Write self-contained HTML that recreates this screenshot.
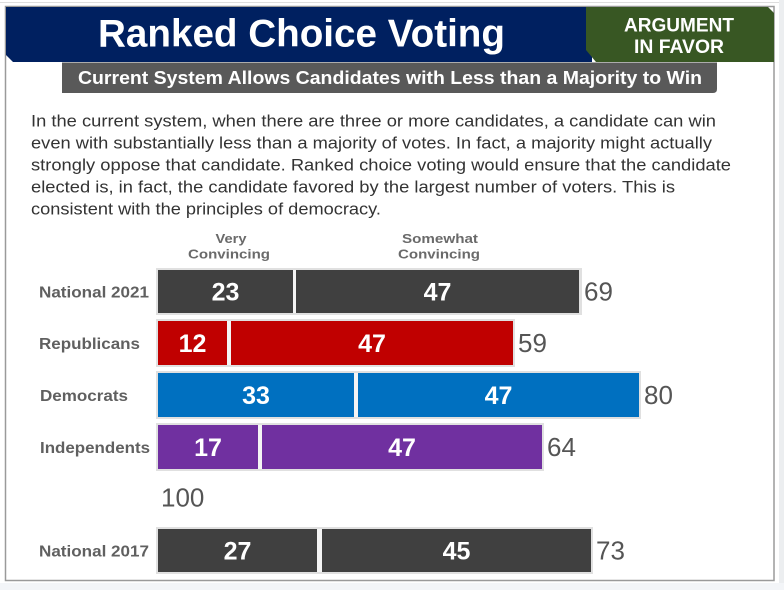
<!DOCTYPE html>
<html>
<head>
<meta charset="utf-8">
<style>
  html,body{margin:0;padding:0;background:#ffffff;}
  svg{display:block;}
  text{font-family:"Liberation Sans", Arial, sans-serif;}
</style>
</head>
<body>
<svg width="784" height="590" viewBox="0 0 784 590" xmlns="http://www.w3.org/2000/svg">
  <rect x="0" y="0" width="784" height="590" fill="#ffffff"/>
  <rect x="0" y="2" width="784" height="1" fill="#dedede"/>
  <rect x="779" y="0" width="5" height="590" fill="#eceef0"/>
  <rect x="0" y="583" width="784" height="7" fill="#f3f5f8"/>

  <rect x="5.5" y="6.5" width="768.5" height="574" fill="#ffffff" stroke="#9a9a9a" stroke-width="1.5"/>

  <polygon points="6,7 592,7 592,62 13,62 6,55" fill="#002060"/>
  <polygon points="586,7 768,7 774,13 774,62 596,62 586,50" fill="#385723"/>
  <text x="679" y="31.5" font-size="19" font-weight="bold" fill="#ffffff" text-anchor="middle" textLength="110" lengthAdjust="spacingAndGlyphs">ARGUMENT</text>
  <text x="679" y="53" font-size="19" font-weight="bold" fill="#ffffff" text-anchor="middle" textLength="90" lengthAdjust="spacingAndGlyphs">IN FAVOR</text>

  <text x="98" y="46.5" font-size="39" font-weight="bold" fill="#ffffff" textLength="407" lengthAdjust="spacingAndGlyphs">Ranked Choice Voting</text>

  <path d="M62,62.5 H717 V89 Q717,93 713,93 H62 Z" fill="#595959"/>
  <text x="78" y="84" font-size="18" font-weight="bold" fill="#ffffff" textLength="624" lengthAdjust="spacingAndGlyphs">Current System Allows Candidates with Less than a Majority to Win</text>

  <g font-size="16.5" fill="#333333">
    <text x="31" y="126.5" textLength="685" lengthAdjust="spacingAndGlyphs">In the current system, when there are three or more candidates, a candidate can win</text>
    <text x="31" y="148.5" textLength="681" lengthAdjust="spacingAndGlyphs">even with substantially less than a majority of votes. In fact, a majority might actually</text>
    <text x="31" y="170.5" textLength="700" lengthAdjust="spacingAndGlyphs">strongly oppose that candidate. Ranked choice voting would ensure that the candidate</text>
    <text x="31" y="192.5" textLength="644" lengthAdjust="spacingAndGlyphs">elected is, in fact, the candidate favored by the largest number of voters. This is</text>
    <text x="31" y="214.5" textLength="350" lengthAdjust="spacingAndGlyphs">consistent with the principles of democracy.</text>
  </g>

  <g font-size="13" font-weight="bold" fill="#6a6a6a" text-anchor="middle">
    <text x="231" y="243" textLength="31" lengthAdjust="spacingAndGlyphs">Very</text>
    <text x="229" y="258.5" textLength="82" lengthAdjust="spacingAndGlyphs">Convincing</text>
    <text x="440" y="243" textLength="76" lengthAdjust="spacingAndGlyphs">Somewhat</text>
    <text x="439" y="258.5" textLength="82" lengthAdjust="spacingAndGlyphs">Convincing</text>
  </g>

  <g font-size="16" font-weight="bold" fill="#606060">
    <text x="39" y="297.5" textLength="110" lengthAdjust="spacingAndGlyphs">National 2021</text>
    <text x="39" y="349" textLength="101" lengthAdjust="spacingAndGlyphs">Republicans</text>
    <text x="40" y="401" textLength="88" lengthAdjust="spacingAndGlyphs">Democrats</text>
    <text x="40" y="453" textLength="110" lengthAdjust="spacingAndGlyphs">Independents</text>
    <text x="39" y="556.5" textLength="110" lengthAdjust="spacingAndGlyphs">National 2017</text>
  </g>

  <!-- National 2021 -->
  <rect x="156" y="268" width="426" height="47" fill="#e0e0e0"/>
  <rect x="158" y="270" width="135" height="43" fill="#404040"/>
  <rect x="293" y="270" width="3" height="43" fill="#f4f4f4"/>
  <rect x="296" y="270" width="283" height="43" fill="#404040"/>
  <!-- Republicans -->
  <rect x="156" y="319" width="359" height="48" fill="#e0e0e0"/>
  <rect x="158" y="321" width="69" height="44" fill="#c00000"/>
  <rect x="227" y="321" width="4" height="44" fill="#f4f4f4"/>
  <rect x="231" y="321" width="282" height="44" fill="#c00000"/>
  <!-- Democrats -->
  <rect x="156" y="371" width="485" height="48" fill="#e0e0e0"/>
  <rect x="158" y="373" width="196" height="44" fill="#0070c0"/>
  <rect x="354" y="373" width="4" height="44" fill="#f4f4f4"/>
  <rect x="358" y="373" width="281" height="44" fill="#0070c0"/>
  <!-- Independents -->
  <rect x="156" y="423" width="388" height="48" fill="#e0e0e0"/>
  <rect x="158" y="425" width="100" height="44" fill="#7030a0"/>
  <rect x="258" y="425" width="4" height="44" fill="#f4f4f4"/>
  <rect x="262" y="425" width="280" height="44" fill="#7030a0"/>
  <!-- National 2017 -->
  <rect x="156" y="527" width="437" height="47" fill="#e0e0e0"/>
  <rect x="158" y="529" width="159" height="43" fill="#404040"/>
  <rect x="317" y="529" width="5" height="43" fill="#f4f4f4"/>
  <rect x="322" y="529" width="269" height="43" fill="#404040"/>

  <g font-size="25" font-weight="bold" fill="#ffffff" text-anchor="middle">
    <text x="225.5" y="300.5">23</text>
    <text x="437.5" y="300.5">47</text>
    <text x="192.5" y="352">12</text>
    <text x="372" y="352">47</text>
    <text x="256" y="404">33</text>
    <text x="498.5" y="404">47</text>
    <text x="208" y="456">17</text>
    <text x="402" y="456">47</text>
    <text x="237.5" y="559.5">27</text>
    <text x="456.5" y="559.5">45</text>
  </g>

  <g font-size="26" fill="#555555">
    <text x="584" y="300.5">69</text>
    <text x="518" y="352">59</text>
    <text x="644" y="404">80</text>
    <text x="547" y="456">64</text>
    <text x="161" y="506.5">100</text>
    <text x="596" y="559.5">73</text>
  </g>
</svg>
</body>
</html>
